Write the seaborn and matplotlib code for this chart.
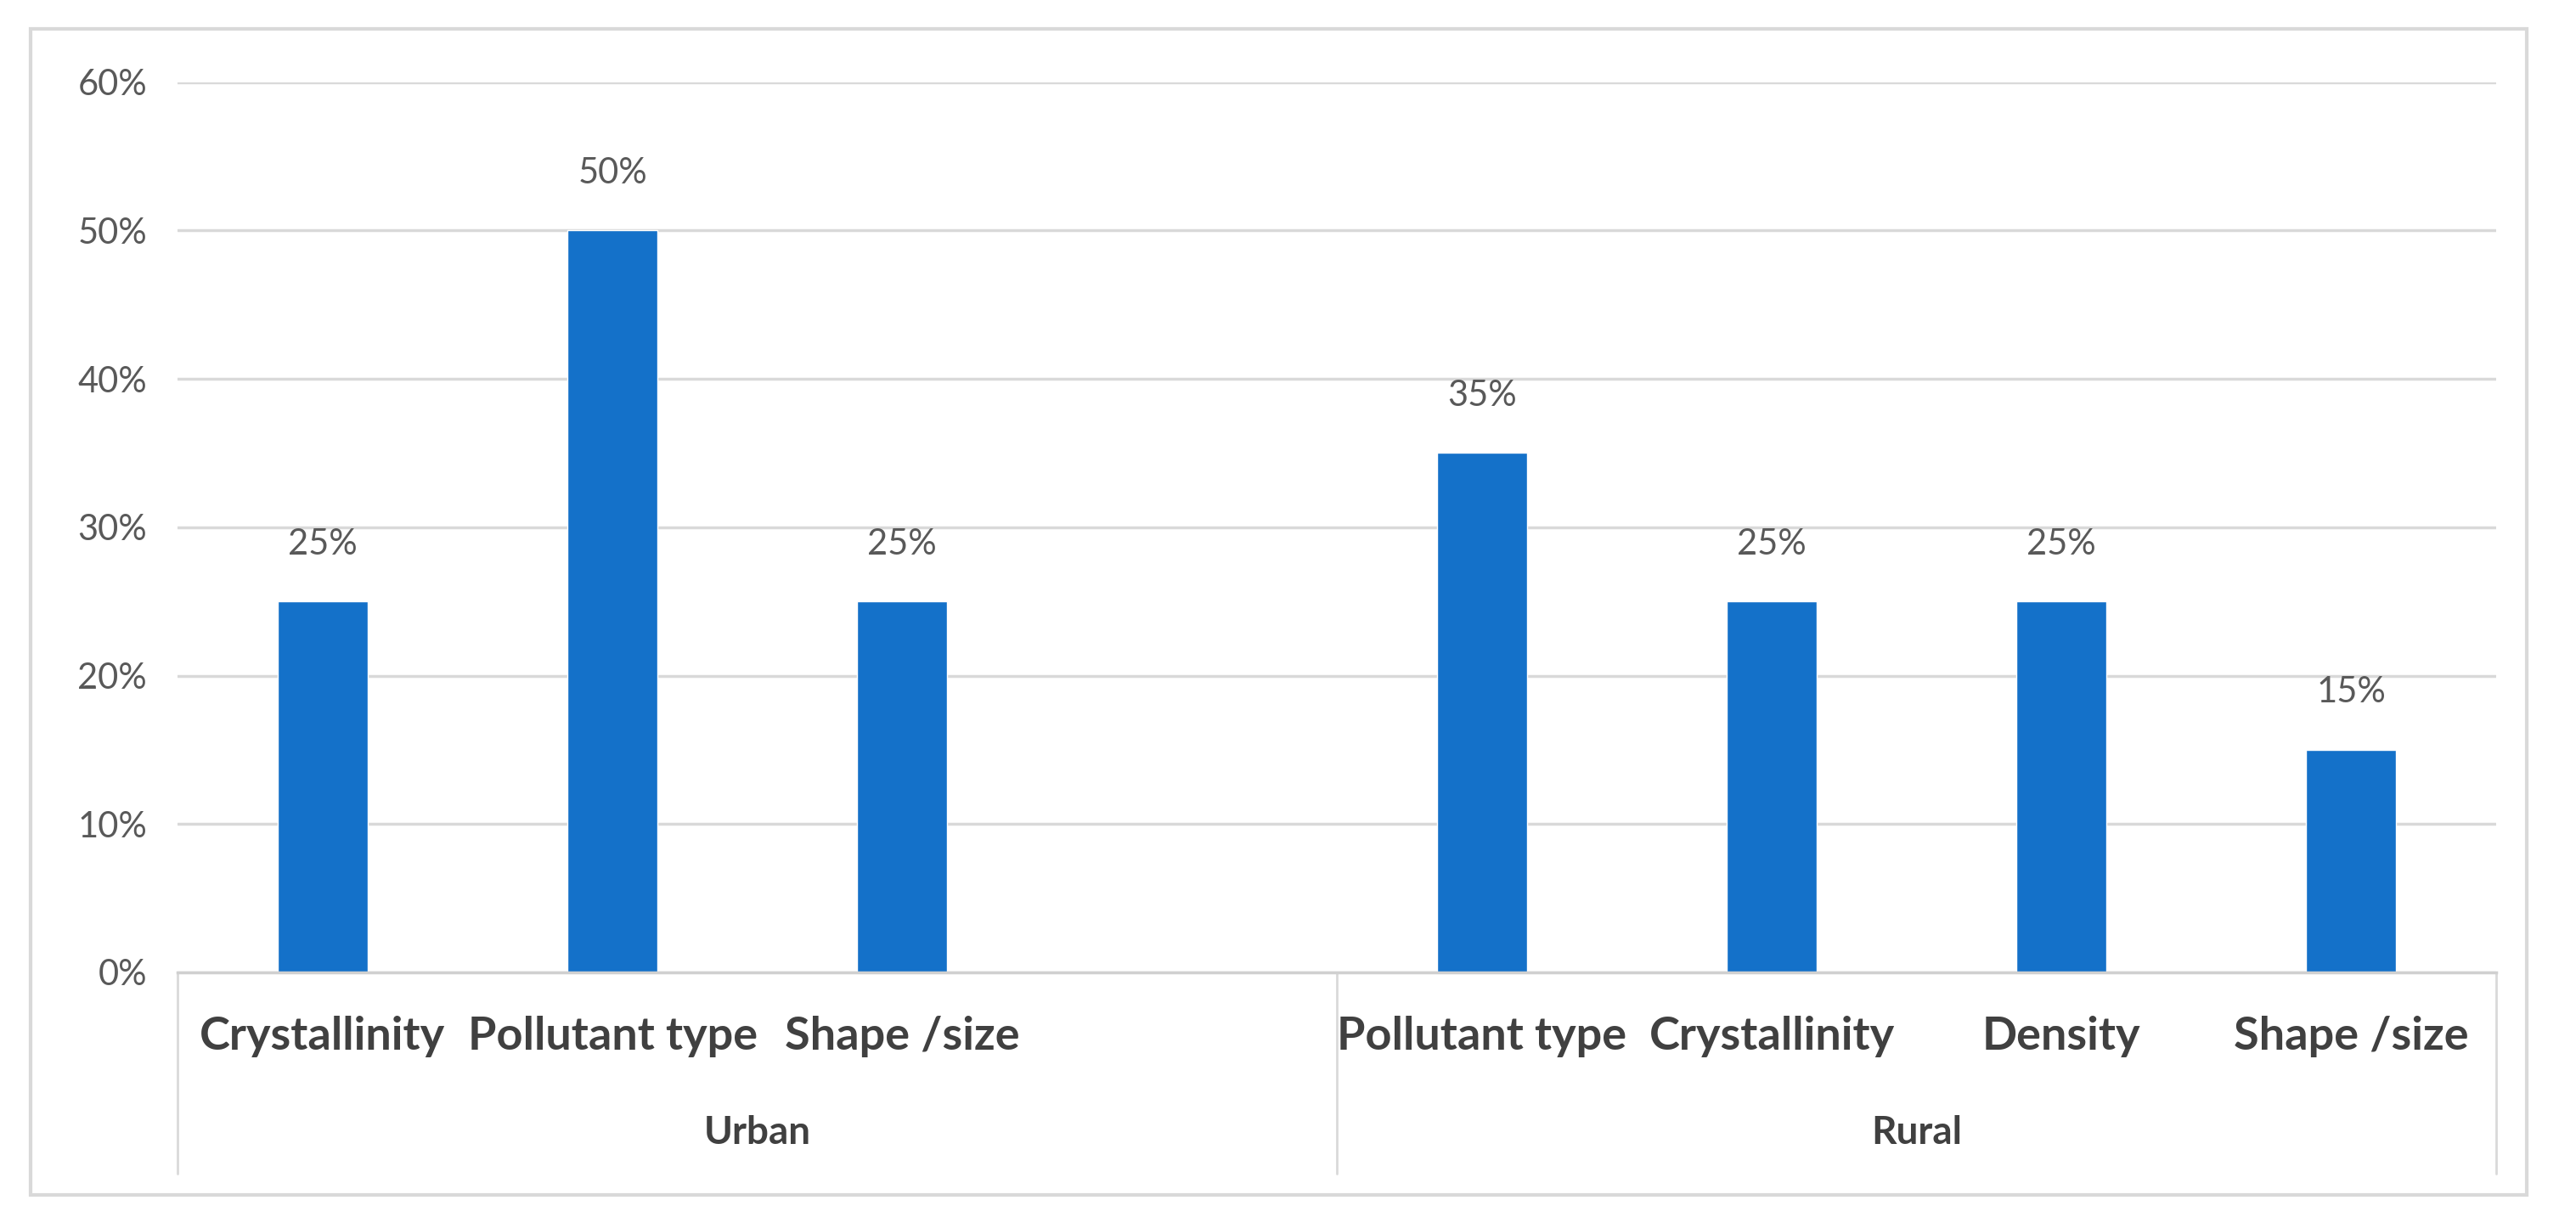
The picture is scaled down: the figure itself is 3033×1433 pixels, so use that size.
import pandas as pd
import matplotlib
matplotlib.use("Agg")
import matplotlib.pyplot as plt
import seaborn as sns
from matplotlib.patches import Rectangle
from matplotlib.ticker import FuncFormatter

# data (percent)
groups = ["Urban", "Urban", "Urban", "Rural", "Rural", "Rural", "Rural"]
factors = ["Crystallinity", "Pollutant type", "Shape /size",
           "Pollutant type", "Crystallinity", "Density", "Shape /size"]
values = [25, 50, 25, 35, 25, 25, 15]
y_ticks = [0, 10, 20, 30, 40, 50, 60]

df = pd.DataFrame({"group": groups, "factor": factors, "value": values})
df["slot"] = df["group"] + "|" + df["factor"]
# excel leaves one empty category at the end of the Urban block
slots = list(df["slot"][:3]) + ["Urban|"] + list(df["slot"][3:])
slot_names = [s.split("|")[1] for s in slots]

sns.set_theme(style="white")
plt.rcParams["font.family"] = ["Lato", "DejaVu Sans"]

fig = plt.figure(figsize=(30.33, 14.33), dpi=100)
ax = fig.add_axes([0.069, 0.201, 0.9, 0.7315])

sns.barplot(data=df, x="slot", y="value", order=slots, color="#1471C9",
            width=0.31, saturation=1, ax=ax)

for cont in ax.containers:
    ax.bar_label(cont, labels=[f"{v:.0f}%" for v in cont.datavalues],
                 padding=35, fontsize=30, color="#595959")

ax.set_ylim(0, 60)
ax.set_xlim(-0.5, len(slots) - 0.5)
ax.set_yticks(y_ticks)
ax.yaxis.set_major_formatter(FuncFormatter(lambda v, p: f"{v:.0f}%"))
ax.grid(axis="y", color="#D9D9D9", linewidth=2.5)
ax.set_axisbelow(True)
for s in ["top", "right", "left"]:
    ax.spines[s].set_visible(False)
ax.spines["bottom"].set_color("#D0D0D0")
ax.spines["bottom"].set_linewidth(2.5)
ax.tick_params(axis="y", length=0, pad=26, labelsize=30, labelcolor="#595959")
ax.tick_params(axis="x", length=0, pad=37, labelsize=39, labelcolor="#404040")
ax.set_xticks(range(len(slots)))
ax.set_xticklabels(slot_names, fontweight="bold")
ax.set_xlabel("")
ax.set_ylabel("")

# multi-level category axis
trans = ax.get_xaxis_transform()
for xs in [-0.5, 3.5, len(slots) - 0.5]:
    ax.plot([xs, xs], [0, -0.226], transform=trans, color="#D9D9D9",
            linewidth=2, clip_on=False)
ax.text(1.5, -0.18, "Urban", transform=trans, ha="center", va="center",
        fontsize=33, fontweight="bold", color="#404040")
ax.text(5.5, -0.18, "Rural", transform=trans, ha="center", va="center",
        fontsize=33, fontweight="bold", color="#404040")

# outer chart border
fig.patches.append(Rectangle((0.012, 0.018), 0.969, 0.958, transform=fig.transFigure,
                             fill=False, edgecolor="#D9D9D9", linewidth=3))

fig.savefig("out.png", dpi=100, facecolor="white")
